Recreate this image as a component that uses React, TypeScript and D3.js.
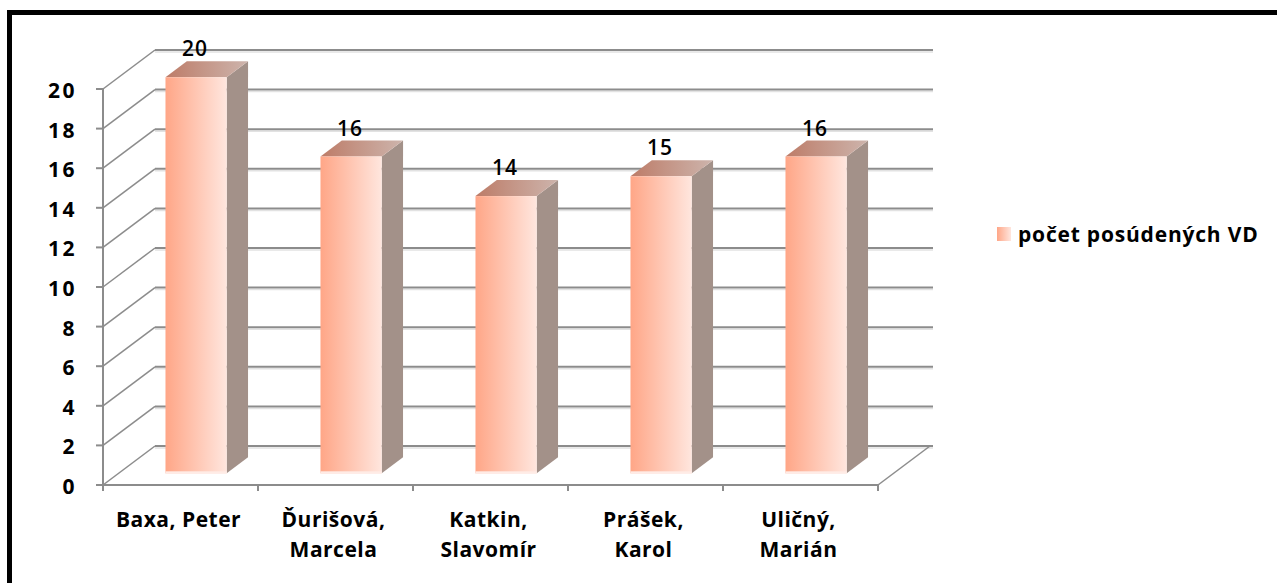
import React from "react";
import * as d3 from "d3";

const categories = ["Baxa, Peter", "Ďurišová, Marcela", "Katkin, Slavomír", "Prášek, Karol", "Uličný, Marián"];
const categoryLines = [["Baxa, Peter"], ["Ďurišová,", "Marcela"], ["Katkin,", "Slavomír"], ["Prášek,", "Karol"], ["Uličný,", "Marián"]];
const values = [20, 16, 14, 15, 16];
const yTicks = [0, 2, 4, 6, 8, 10, 12, 14, 16, 18, 20];
const seriesName = "počet posúdených VD";

const W = 1277, H = 583;
const DX = 52, DY = -39;
const F1 = 0.3, F2 = 0.71;
const FONT = "'Open Sans', 'DejaVu Sans', sans-serif";

export default function App() {
  const x = d3.scaleBand<string>().domain(categories).range([103, 878]).padding(0);
  const y = d3.scaleLinear().domain([0, 20]).range([485, 89]);
  const bw = x.bandwidth() * 0.395;
  const grid = "#8c8c8c";
  const shadow = "#e2e2e2";

  return (
    <svg width={W} height={H} style={{ position: "absolute", left: 0, top: 0, background: "#fff" }} fontFamily={FONT}>
      <defs>
        <linearGradient id="front" x1="0" x2="1" y1="0" y2="0">
          <stop offset="0" stopColor="#ffa687" />
          <stop offset="1" stopColor="#ffe6de" />
        </linearGradient>
        <linearGradient id="top" x1="0" x2="1" y1="0" y2="0">
          <stop offset="0" stopColor="#bd7c68" />
          <stop offset="1" stopColor="#cdb4ac" />
        </linearGradient>
      </defs>
      <rect x={0} y={0} width={W} height={H} fill="#fff" />
      <rect x={9.5} y={12.5} width={1320} height={640} fill="none" stroke="#000" strokeWidth={5} />

      {/* back wall gridlines and side wall diagonals */}
      {yTicks.map((t) => {
        const yf = y(t);
        const yb = yf + DY;
        return (
          <g key={"g" + t}>
            <line x1={103 + DX} x2={933} y1={yb + 2} y2={yb + 2} stroke={shadow} strokeWidth={1.5} />
            <line x1={103 + DX} x2={933} y1={yb} y2={yb} stroke={grid} strokeWidth={2} />
            <line x1={103} y1={yf} x2={103 + DX} y2={yb} stroke={grid} strokeWidth={1.5} />
            <line x1={96} x2={103} y1={yf} y2={yf} stroke={grid} strokeWidth={2} />
          </g>
        );
      })}
      {/* floor */}
      <line x1={878} y1={485} x2={878 + DX} y2={485 + DY} stroke={grid} strokeWidth={1.5} />
      <line x1={103} x2={878} y1={485} y2={485} stroke={grid} strokeWidth={2} />
      <line x1={103} x2={103} y1={y(20)} y2={491} stroke={grid} strokeWidth={2} />
      {categories.map((c, i) => (
        <line key={"ct" + i} x1={x(c) as number} x2={x(c) as number} y1={485} y2={491} stroke={grid} strokeWidth={2} />
      ))}
      <line x1={878} x2={878} y1={485} y2={491} stroke={grid} strokeWidth={2} />

      {/* bars */}
      {categories.map((c, i) => {
        const v = values[i];
        const cx = (x(c) as number) + x.bandwidth() / 2;
        const fx0 = cx + DX * F1 - bw / 2;
        const fx1 = fx0 + bw;
        const ft = y(v) + DY * F1;
        const fb = y(0) + DY * F1;
        const ox = DX * (F2 - F1);
        const oy = DY * (F2 - F1);
        return (
          <g key={"b" + i}>
            <polygon points={`${fx1},${ft} ${fx1 + ox},${ft + oy} ${fx1 + ox},${fb + oy} ${fx1},${fb}`} fill="#a39189" />
            <polygon points={`${fx0},${ft} ${fx0 + ox},${ft + oy} ${fx1 + ox},${ft + oy} ${fx1},${ft}`} fill="url(#top)" />
            <rect x={fx0} y={ft} width={bw} height={fb - ft} fill="url(#front)" />
            <rect x={fx0} y={fb - 2} width={bw} height={2.5} fill="#ffece6" />
            <text x={fx0 + bw / 2 - 1} y={ft + oy - 5} textAnchor="middle" fontSize={21} fontWeight={600} letterSpacing={1} fill="#000">
              {v}
            </text>
          </g>
        );
      })}

      {/* y tick labels */}
      {yTicks.map((t) => (
        <text key={"yl" + t} x={77} y={y(t) + 9} textAnchor="end" fontSize={21} fontWeight={700} letterSpacing={2.5} fill="#000">
          {t}
        </text>
      ))}

      {/* category labels */}
      {categories.map((c, i) => {
        const cx = (x(c) as number) + x.bandwidth() / 2 - 2;
        return (
          <text key={"cl" + i} textAnchor="middle" fontSize={21} fontWeight={700} letterSpacing={0.5} fill="#000">
            {categoryLines[i].map((ln, j) => (
              <tspan key={j} x={cx} y={527 + j * 30}>{ln}</tspan>
            ))}
          </text>
        );
      })}

      {/* legend */}
      <rect x={997} y={227} width={14} height={14} fill="url(#front)" />
      <text x={1018} y={242} fontSize={21} fontWeight={700} letterSpacing={0.8} fill="#000">{seriesName}</text>
    </svg>
  );
}
